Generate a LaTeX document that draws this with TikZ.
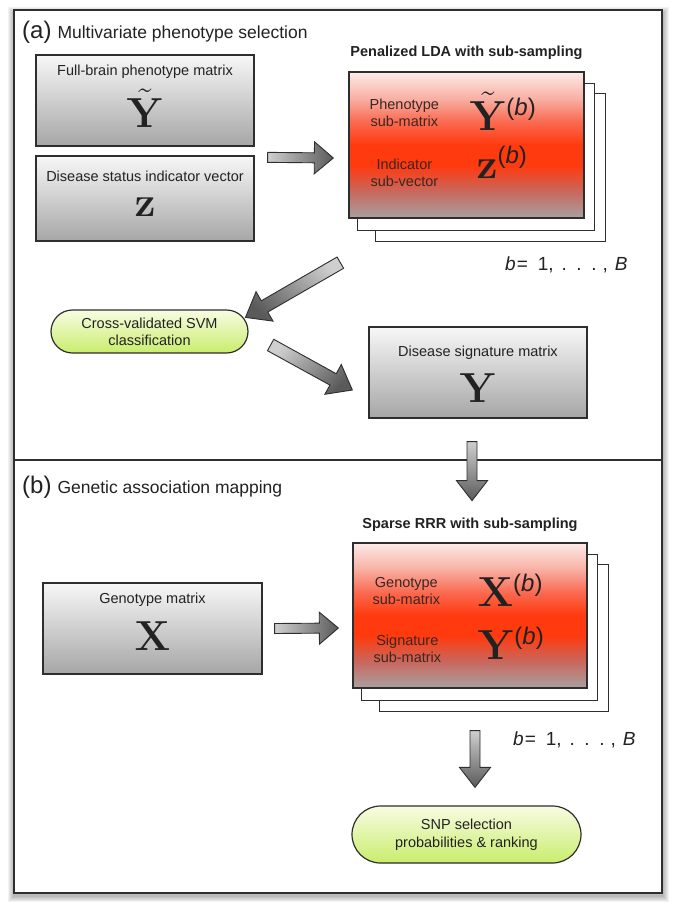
\documentclass[tikz,border=0pt]{standalone}
\usepackage{fix-cm}
\usepackage{amsmath}
\usepackage[no-math]{fontspec}
\setsansfont{Liberation Sans}
\usepackage{xcolor}
\usepackage{tikz}
\usetikzlibrary{calc,shapes.misc}
\definecolor{TextDark}{HTML}{222222}
\definecolor{LineDark}{HTML}{2E2E2E}
\definecolor{BoxTop}{HTML}{F7F7F7}
\definecolor{BoxBot}{HTML}{A6A6A6}
\definecolor{SubText}{HTML}{3A2622}
\definecolor{PillTop}{HTML}{F8FCE2}
\definecolor{PillBot}{HTML}{C9ED6C}
\definecolor{ArrowLight}{HTML}{CFCFCF}
\definecolor{ArrowDark}{HTML}{5A5A5A}
\definecolor{RedTop}{HTML}{FDEBE8}
\definecolor{RedPale}{HTML}{F8B0A4}
\definecolor{RedUp}{HTML}{FA6A50}
\definecolor{RedHot}{HTML}{FF3A0E}
\definecolor{RedLow}{HTML}{C8685E}
\definecolor{RedBot}{HTML}{A8A1A0}
\pgfdeclareverticalshading{ldashade}{100bp}{color(0bp)=(RedBot); color(25bp)=(RedBot); color(34bp)=(RedLow); color(43bp)=(RedHot); color(50bp)=(RedHot); color(58bp)=(RedUp); color(66bp)=(RedPale); color(75bp)=(RedTop); color(100bp)=(RedTop)}
\pgfdeclarelayer{shadow}
\pgfdeclarelayer{stack}
\pgfsetlayers{shadow,stack,main}

% b = 1, ..., B
\newcommand\brange{\textit{b}\hspace{1pt}=\hspace{10pt}1,\hspace{8pt}.\hspace{9.5pt}.\hspace{9.5pt}.\hspace{6pt},\hspace{7pt}\textit{B}}
\newcommand\subb{^{\text{\fontsize{24}{24}\selectfont\sffamily(\textit{b}\/)}}}
% fat block arrow: [shading angle]{from}{to}{shaft half}{head half}{head length}
\newcommand\fatarrow[6][0]{%
  \coordinate (fabase) at ($(#3)!#6pt!(#2)$);
  \path[fatarrow, shading angle=#1] ($(#2)!#4pt!90:(#3)$) -- ($(fabase)!#4pt!90:(#3)$)
    -- ($(fabase)!#5pt!90:(#3)$) -- (#3) -- ($(fabase)!#5pt!-90:(#3)$)
    -- ($(fabase)!#4pt!-90:(#3)$) -- ($(#2)!#4pt!-90:(#3)$) -- cycle;}

\begin{document}
\begin{tikzpicture}[x=1pt, y=-1pt, font=\sffamily, text=TextDark,
    graybox/.style={draw=LineDark, line width=1.3pt, top color=BoxTop, bottom color=BoxBot,
                    minimum width=218pt, minimum height=91pt, inner sep=0pt},
    redbox/.style={draw=LineDark, line width=1.3pt, shade, shading=ldashade,
                   minimum width=235pt, minimum height=146pt, inner sep=0pt},
    stackbox/.style={draw=LineDark, line width=1.3pt, fill=white},
    pill/.style={rounded rectangle, draw=LineDark, line width=1.2pt, top color=PillTop,
                 bottom color=PillBot, align=center, inner sep=0pt,
                 font=\sffamily\fontsize{14.5}{17}\selectfont},
    boxlbl/.style={anchor=base, inner sep=0pt, font=\sffamily\fontsize{14.5}{17}\selectfont},
    sublbl/.style={align=center, inner sep=0pt, text=SubText,
                   font=\sffamily\fontsize{14.5}{17}\selectfont},
    heading/.style={anchor=base, inner sep=0pt, font=\sffamily\bfseries\fontsize{14.5}{17}\selectfont},
    sym/.style={anchor=base, inner sep=0pt, font=\fontsize{42}{42}\selectfont},
    rangelbl/.style={anchor=base west, inner sep=0pt, font=\sffamily\fontsize{19}{22}\selectfont},
    panel/.style={anchor=base west, inner sep=0pt},
    panelframe/.style={draw=LineDark, line width=1.5pt},
    fatarrow/.style={draw=LineDark, line width=0.9pt, top color=ArrowLight, bottom color=ArrowDark}]
\useasboundingbox (0,0) rectangle (675,914);

% outer frame with soft shadow
\begin{pgfonlayer}{shadow}
  \foreach \s in {1,...,6}
    \fill[black, opacity=0.05] (14-\s,10-\s+3) rectangle (662+\s+1,893+\s+3);
  \fill[white] (14,10) rectangle (662,893);
\end{pgfonlayer}
\draw[panelframe] (14,10) rectangle (662,893);
\draw[panelframe] (14,460) -- (662,460);

% (a) phenotype selection
\node[panel] (labela) at (22,38) {{\fontsize{24}{26}\selectfont(a)}\hspace{6pt}{\fontsize{17.5}{20}\selectfont Multivariate phenotype selection}};
\node[graybox] (phen) at (145,100.5) {};
\node[boxlbl] (phenlbl) at ($(phen.north)+(0,21)$) {Full-brain phenotype matrix};
\node[sym] (phensym) at ($(phen.north)+(0,73)$) {$\tilde{\mathbf{Y}}$};
\node[graybox, minimum height=85pt] (dstat) at (145,198.5) {};
\node[boxlbl] (dstatlbl) at ($(dstat.north)+(0,26)$) {Disease status indicator vector};
\node[sym] (dstatsym) at ($(dstat.north)+(0,61)$) {$\mathbf{z}$};

\node[redbox] (lda) at (466.5,145) {};
\node[heading] (ldahead) at ($(lda.north)+(0,-15)$) {Penalized LDA with sub-sampling};
\node[sublbl] (ldaphen) at ($(lda.north west)+(56,41)$) {Phenotype\\sub-matrix};
\node[sym, anchor=base west] (ldaphensym) at ($(lda.north west)+(121,59)$) {$\tilde{\mathbf{Y}}\subb$};
\node[sublbl] (ldaind) at ($(lda.north west)+(56,101)$) {Indicator\\sub-vector};
\node[sym, anchor=base west] (ldaindsym) at ($(lda.north west)+(128,107)$) {$\mathbf{z}\subb$};
\node[rangelbl] (ldarange) at (505,270) {\brange};

\node[pill, minimum width=197pt, minimum height=43pt] (svm) at (149.5,331.5) {Cross-validated SVM\\classification};
\node[graybox] (sig) at (478,372.5) {};
\node[boxlbl] (siglbl) at ($(sig.north)+(0,30)$) {Disease signature matrix};
\node[sym] (sigsym) at ($(sig.north)+(0,76)$) {$\mathbf{Y}$};

% (b) association mapping
\node[panel] (labelb) at (22,493) {{\fontsize{24}{26}\selectfont(b)}\hspace{6pt}{\fontsize{17.5}{20}\selectfont Genetic association mapping}};
\node[graybox, minimum width=219pt] (geno) at (152.5,628.5) {};
\node[boxlbl] (genolbl) at ($(geno.north)+(0,21)$) {Genotype matrix};
\node[sym] (genosym) at ($(geno.north)+(0,68)$) {$\mathbf{X}$};

\node[redbox, minimum width=234pt, minimum height=145pt] (rrr) at (470,615.5) {};
\node[heading] (rrrhead) at ($(rrr.north)+(0,-14)$) {Sparse RRR with sub-sampling};
\node[sublbl] (rrrgeno) at ($(rrr.north west)+(54,49)$) {Genotype\\sub-matrix};
\node[sym, anchor=base west] (rrrgenosym) at ($(rrr.north west)+(125,64)$) {$\mathbf{X}\subb$};
\node[sublbl] (rrrsig) at ($(rrr.north west)+(55,106)$) {Signature\\sub-matrix};
\node[sym, anchor=base west] (rrrsigsym) at ($(rrr.north west)+(125,117)$) {$\mathbf{Y}\subb$};
\node[rangelbl] (rrrrange) at (513,745) {\brange};

\node[pill, minimum width=229pt, minimum height=57pt, font=\sffamily\fontsize{14.5}{18}\selectfont] (snp) at (466.5,834.5) {SNP selection\\probabilities \& ranking};

% sub-sample copies behind
\begin{pgfonlayer}{stack}
  \foreach \n in {lda,rrr} {
    \draw[stackbox] ($(\n.north west)+(27,22)$) rectangle ($(\n.south east)+(21,23)$);
    \draw[stackbox] ($(\n.north west)+(9,12)$) rectangle ($(\n.south east)+(10,12)$);
  }
\end{pgfonlayer}

% block arrows
\coordinate (a1s) at ($(dstat.north east)+(13,2)$);
\coordinate (a1e) at ($(lda.west)+(-15,13)$);
\coordinate (a2s) at ($(lda.south west)+(-8,44)$);
\coordinate (a2e) at ($(svm.north east)+(19,8)$);
\coordinate (a3s) at ($(svm.east)+(22,13.5)$);
\coordinate (a3e) at ($(sig.west)+(-16,17.5)$);
\coordinate (a4s) at ($(sig.south)+(-6,23)$);
\coordinate (a4e) at ($(sig.south)+(-6,82)$);
\coordinate (a5s) at ($(geno.east)+(12,0)$);
\coordinate (a5e) at ($(rrr.west)+(-14,12.5)$);
\coordinate (a6s) at ($(rrr.south)+(5,42)$);
\coordinate (a6e) at ($(snp.north)+(8.5,-18)$);
\fatarrow[90]{a1s}{a1e}{5}{16}{19}
\fatarrow[-45]{a2s}{a2e}{6.5}{17}{22}
\fatarrow[45]{a3s}{a3e}{6.5}{17}{22}
\fatarrow[0]{a4s}{a4e}{5}{15.5}{20}
\fatarrow[90]{a5s}{a5e}{5}{16}{19}
\fatarrow[0]{a6s}{a6e}{5}{15.5}{20}
\end{tikzpicture}
\end{document}
